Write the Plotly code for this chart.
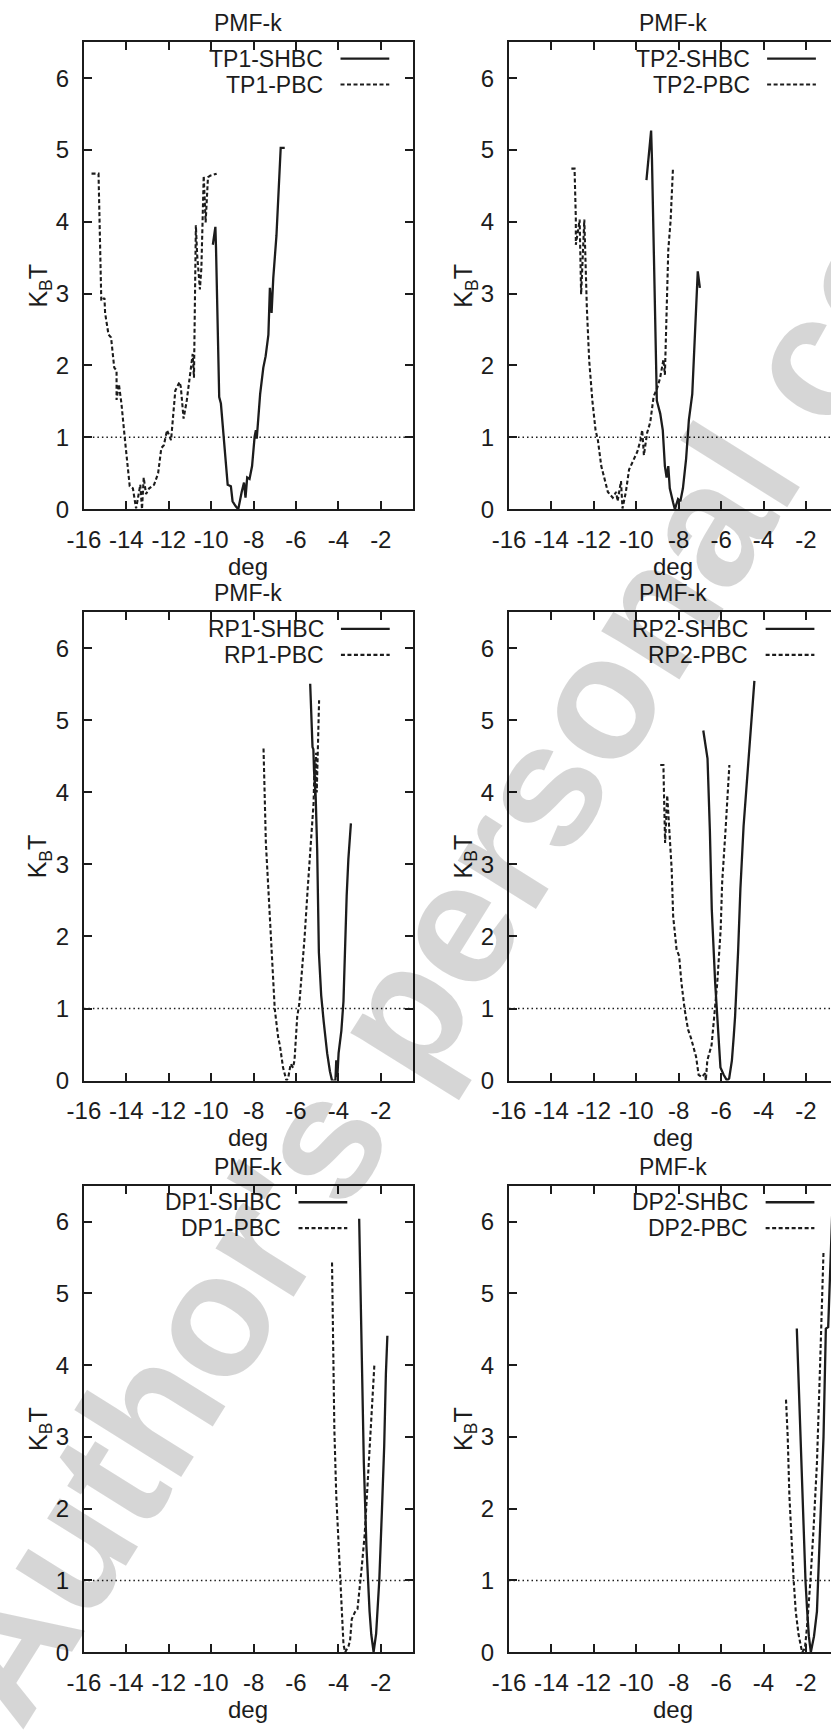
import plotly.graph_objects as go

# ---------------------------------------------------------------- data
X_TICKS = [-16, -14, -12, -10, -8, -6, -4, -2]
X_TICK_TEXT = ["-16", "-14", "-12", "-10", "-8", "-6", "-4", "-2"]
Y_TICKS = [0, 1, 2, 3, 4, 5, 6]
Y_TICK_TEXT = ["0", "1", "2", "3", "4", "5", "6"]

tp1_shbc_x = [-9.92, -9.80, -9.77, -9.62, -9.54, -9.39, -9.22, -9.07, -8.99, -8.84, -8.72,
              -8.56, -8.45, -8.38, -8.30, -8.19, -8.07, -7.95, -7.89, -7.85, -7.69, -7.54,
              -7.43, -7.30, -7.23, -7.15, -7.07, -6.92, -6.72, -6.53]
tp1_shbc_y = [3.68, 3.93, 3.63, 1.56, 1.47, 0.98, 0.34, 0.32, 0.11, 0.04, 0.00,
              0.24, 0.37, 0.16, 0.44, 0.42, 0.60, 1.01, 1.10, 0.98, 1.60, 1.97,
              2.13, 2.43, 3.08, 2.73, 3.22, 3.81, 5.03, 5.03]
tp1_pbc_x = [-15.64, -15.31, -15.18, -15.03, -15.00, -14.84, -14.72, -14.66, -14.57, -14.46,
             -14.46, -14.35, -14.23, -14.08, -13.95, -13.84, -13.69, -13.54, -13.43, -13.34,
             -13.26, -13.18, -13.07, -12.92, -12.69, -12.50, -12.35, -12.23, -12.08, -11.89,
             -11.69, -11.49, -11.43, -11.30, -11.15, -10.92, -10.87, -10.81, -10.72, -10.66,
             -10.53, -10.46, -10.35, -10.26, -10.15, -10.05, -9.74]
tp1_pbc_y = [4.67, 4.67, 2.90, 2.94, 2.73, 2.43, 2.39, 2.20, 1.97, 1.93,
             1.52, 1.74, 1.47, 1.01, 0.64, 0.32, 0.29, 0.01, 0.19, 0.34,
             0.00, 0.44, 0.21, 0.29, 0.34, 0.50, 0.85, 0.89, 1.10, 0.96,
             1.65, 1.77, 1.70, 1.26, 1.51, 2.02, 2.16, 1.83, 3.95, 3.54,
             3.06, 3.36, 4.64, 3.99, 4.62, 4.64, 4.67]

tp2_shbc_x = [-9.52, -9.30, -9.26, -9.15, -9.03, -8.87, -8.75, -8.65, -8.57, -8.49, -8.42,
              -8.26, -8.18, -8.03, -7.92, -7.80, -7.65, -7.52, -7.36, -7.10, -7.00]
tp2_shbc_y = [4.58, 5.27, 4.87, 3.26, 1.51, 1.33, 1.10, 0.60, 0.44, 0.60, 0.29,
              0.09, 0.00, 0.14, 0.11, 0.29, 0.70, 1.24, 1.60, 3.31, 3.08]
tp2_pbc_x = [-13.06, -12.91, -12.85, -12.85, -12.67, -12.60, -12.45, -12.42, -12.33, -12.22,
             -12.07, -11.92, -11.81, -11.65, -11.34, -11.11, -10.95, -10.88, -10.72, -10.65,
             -10.49, -10.34, -10.18, -9.95, -9.80, -9.72, -9.64, -9.49, -9.34, -9.18,
             -9.03, -8.88, -8.72, -8.65, -8.49, -8.38, -8.27]
tp2_pbc_y = [4.74, 4.74, 4.05, 3.68, 4.03, 2.99, 4.03, 3.73, 2.80, 2.07,
             1.51, 1.10, 0.96, 0.60, 0.24, 0.16, 0.24, 0.11, 0.39, 0.01,
             0.24, 0.55, 0.65, 0.80, 0.96, 1.10, 0.75, 1.06, 1.21, 1.57,
             1.67, 1.82, 2.08, 1.87, 3.61, 4.02, 4.74]

rp1_shbc_x = [-5.33, -5.22, -5.18, -5.15, -5.07, -5.00, -4.92, -4.81, -4.69, -4.53, -4.40,
              -4.30, -4.14, -4.10, -4.05, -3.99, -3.86, -3.76, -3.61, -3.53, -3.41]
rp1_shbc_y = [5.51, 4.63, 4.60, 4.31, 3.94, 3.20, 1.78, 1.18, 0.81, 0.38, 0.13,
              0.00, 0.00, 0.28, 0.05, 0.38, 0.69, 1.10, 2.56, 3.07, 3.57]
rp1_pbc_x = [-7.53, -7.48, -7.42, -7.30, -7.15, -7.00, -6.84, -6.76, -6.61, -6.45, -6.37,
             -6.25, -6.14, -6.07, -5.94, -5.84, -5.76, -5.60, -5.45, -5.29, -5.17, -5.12,
             -5.10, -5.05, -5.02, -4.91]
rp1_pbc_y = [4.61, 3.94, 3.30, 2.65, 1.87, 0.99, 0.60, 0.49, 0.18, 0.00, 0.03,
             0.23, 0.18, 0.28, 0.89, 1.07, 1.37, 1.96, 2.65, 3.39, 3.85, 4.45,
             3.95, 4.55, 4.00, 5.28]

rp2_shbc_x = [-6.84, -6.64, -6.53, -6.44, -6.28, -6.13, -6.03, -5.88, -5.72, -5.62, -5.49,
              -5.40, -5.34, -5.20, -5.09, -4.94, -4.71, -4.43]
rp2_shbc_y = [4.86, 4.47, 3.48, 2.38, 1.36, 0.71, 0.18, 0.08, 0.00, 0.03, 0.28,
              0.63, 0.89, 1.78, 2.66, 3.53, 4.40, 5.55]
rp2_pbc_x = [-8.87, -8.72, -8.69, -8.64, -8.54, -8.44, -8.33, -8.26, -8.10, -7.98, -7.87,
             -7.72, -7.56, -7.42, -7.18, -7.06, -6.91, -6.75, -6.72, -6.65, -6.45, -6.34,
             -6.18, -6.02, -5.95, -5.79, -5.61]
rp2_pbc_y = [4.38, 4.38, 3.94, 3.30, 3.96, 3.39, 2.93, 2.28, 1.82, 1.73, 1.36,
             0.99, 0.71, 0.59, 0.33, 0.08, 0.05, 0.10, 0.00, 0.28, 0.49, 0.84,
             1.36, 2.10, 2.75, 3.48, 4.38]

dp1_shbc_x = [-3.02, -2.91, -2.80, -2.68, -2.61, -2.53, -2.45, -2.34, -2.22, -2.15, -2.07,
              -1.95, -1.84, -1.76, -1.69]
dp1_shbc_y = [6.04, 4.02, 2.64, 1.49, 1.01, 0.57, 0.25, 0.00, 0.26, 0.57, 1.01,
              1.95, 2.87, 3.88, 4.41]
dp1_pbc_x = [-4.30, -4.25, -4.19, -4.10, -3.99, -3.92, -3.84, -3.76, -3.68, -3.53, -3.45,
             -3.37, -3.22, -3.10, -2.91, -2.76, -2.61, -2.45, -2.30]
dp1_pbc_y = [5.43, 4.26, 3.10, 2.18, 1.49, 1.01, 0.57, 0.11, 0.00, 0.08, 0.16,
             0.46, 0.56, 0.60, 1.15, 1.64, 2.41, 3.33, 4.02]

dp2_shbc_x = [-2.43, -2.37, -2.27, -2.17, -2.09, -2.02, -1.94, -1.86, -1.77, -1.62, -1.48,
              -1.30, -1.17, -1.06, -0.95, -0.75]
dp2_shbc_y = [4.51, 4.02, 3.10, 2.18, 1.49, 0.99, 0.57, 0.22, 0.00, 0.22, 0.57,
              1.90, 3.00, 4.51, 4.53, 6.20]
dp2_pbc_x = [-2.94, -2.86, -2.78, -2.68, -2.58, -2.48, -2.35, -2.18, -2.05, -1.95, -1.85,
             -1.79, -1.64, -1.48, -1.33, -1.17]
dp2_pbc_y = [3.52, 3.01, 2.18, 1.49, 1.01, 0.57, 0.25, 0.00, 0.05, 0.35, 0.70,
             0.99, 1.72, 2.64, 4.02, 5.59]

THRESHOLD = 1.0
PANEL_TITLE = "PMF-k"

# name prefix, solid (SHBC) series, dashed (PBC) series, right end of key text
panels = [
    ("TP1", tp1_shbc_x, tp1_shbc_y, tp1_pbc_x, tp1_pbc_y, -4.62),
    ("TP2", tp2_shbc_x, tp2_shbc_y, tp2_pbc_x, tp2_pbc_y, -4.55),
    ("RP1", rp1_shbc_x, rp1_shbc_y, rp1_pbc_x, rp1_pbc_y, -4.60),
    ("RP2", rp2_shbc_x, rp2_shbc_y, rp2_pbc_x, rp2_pbc_y, -4.62),
    ("DP1", dp1_shbc_x, dp1_shbc_y, dp1_pbc_x, dp1_pbc_y, -6.60),
    ("DP2", dp2_shbc_x, dp2_shbc_y, dp2_pbc_x, dp2_pbc_y, -4.62),
]

# ---------------------------------------------------------------- geometry (px)
W, H = 831, 1733
PX_PER_DEG = 21.65
X_MIN, X_MAX = -16.0, -0.5
COL_LEFT = [68.3, 502.3]
ROW_TOP = [42.5, 617.0, 1194.7]
ROW_BOTTOM = [513.0, 1088.7, 1664.7]
Y_MAX = 6.5

INK = "#1c1c1c"
FONT = "Liberation Sans"
FS_TICK = 24
FS_TEXT = 23

fig = go.Figure()
annotations = []
shapes = []

for i, (name, sx, sy, px, py, key_x) in enumerate(panels):
    row, col = divmod(i, 2)
    n = i + 1
    xa = "x" if n == 1 else f"x{n}"
    ya = "y" if n == 1 else f"y{n}"
    left = COL_LEFT[col]
    right_full = left + (X_MAX - X_MIN) * PX_PER_DEG
    right_vis = min(right_full, W)
    x_hi = X_MIN + (right_vis - left) / PX_PER_DEG

    fig.add_trace(go.Scatter(x=sx, y=sy, mode="lines", xaxis=xa, yaxis=ya,
                             line=dict(color=INK, width=2.3), showlegend=False,
                             name=f"{name}-SHBC"))
    fig.add_trace(go.Scatter(x=px, y=py, mode="lines", xaxis=xa, yaxis=ya,
                             line=dict(color=INK, width=2.1, dash="4px,2.5px"),
                             showlegend=False, name=f"{name}-PBC"))

    axis_common = dict(ticks="inside", ticklen=8, tickwidth=1.5, tickcolor=INK,
                       showline=True, linecolor=INK, linewidth=2,
                       showgrid=False, zeroline=False,
                       tickfont=dict(family=FONT, size=FS_TICK, color=INK))
    fig.layout[f"xaxis{'' if n == 1 else n}"] = dict(
        axis_common,
        domain=[left / W, right_vis / W], range=[X_MIN, x_hi], anchor=ya,
        tickvals=X_TICKS, ticktext=X_TICK_TEXT, mirror="allticks",
        ticklabelstandoff=8)
    fig.layout[f"yaxis{'' if n == 1 else n}"] = dict(
        axis_common,
        domain=[1 - ROW_BOTTOM[row] / H, 1 - ROW_TOP[row] / H], range=[0, Y_MAX],
        anchor=xa, tickvals=Y_TICKS, ticktext=Y_TICK_TEXT,
        mirror="allticks" if col == 0 else False, ticklabelstandoff=8)

    # threshold line at 1 kT
    shapes.append(dict(type="line", xref=f"{xa} domain", yref=ya, x0=0, x1=1,
                       y0=THRESHOLD, y1=THRESHOLD,
                       line=dict(color=INK, width=1.5, dash="1.5px,3px")))

    xc = (X_MIN + X_MAX) / 2
    annotations += [
        dict(text=PANEL_TITLE, xref=xa, yref=f"{ya} domain", x=xc, y=1, yshift=19,
             showarrow=False, xanchor="center", yanchor="middle",
             font=dict(family=FONT, size=FS_TEXT, color=INK)),
        dict(text="deg", xref=xa, yref=f"{ya} domain", x=xc, y=0, yshift=-57,
             showarrow=False, xanchor="center", yanchor="middle",
             font=dict(family=FONT, size=FS_TICK, color=INK)),
        dict(text="K<sub>B</sub>T", xref=f"{xa} domain", yref=f"{ya} domain",
             x=0, y=0.5, xshift=-44, yshift=-10, textangle=-90, showarrow=False,
             xanchor="center", yanchor="middle",
             font=dict(family=FONT, size=FS_TICK + 1, color=INK)),
    ]

    # key: right-aligned label followed by a line sample
    for label, key_y, dash, lw in ((f"{name}-SHBC", 6.27, "solid", 2.3),
                                   (f"{name}-PBC", 5.91, "4px,2.5px", 2.1)):
        annotations.append(dict(text=label, xref=xa, yref=ya, x=key_x, y=key_y,
                                showarrow=False, xanchor="right", yanchor="middle",
                                font=dict(family=FONT, size=FS_TEXT, color=INK)))
        shapes.append(dict(type="line", xref=xa, yref=ya, x0=key_x + 0.72,
                           x1=key_x + 3.02, y0=key_y, y1=key_y,
                           line=dict(color=INK, width=lw, dash=dash)))

# right-hand mirror ticks of the clipped right column
for k, n in enumerate((2, 4, 6)):
    fig.layout[f"yaxis{7 + k}"] = dict(
        overlaying=f"y{n}", anchor=f"x{n}", side="right", range=[0, Y_MAX],
        tickvals=Y_TICKS, ticks="inside", ticklen=3, tickwidth=1.5,
        tickcolor=INK, showticklabels=False, showline=False,
        showgrid=False, zeroline=False)

# watermark text
annotations.append(dict(text="<b>Author's personal copy</b>", xref="paper",
                        yref="paper", x=0.572, y=0.488, textangle=-58,
                        showarrow=False, xanchor="center", yanchor="middle",
                        font=dict(family=FONT, size=174, color="rgba(0,0,0,0.16)")))

fig.update_layout(width=W, height=H, margin=dict(l=0, r=0, t=0, b=0),
                  paper_bgcolor="white", plot_bgcolor="white",
                  annotations=annotations, shapes=shapes, showlegend=False)

fig.write_html("out.html")
